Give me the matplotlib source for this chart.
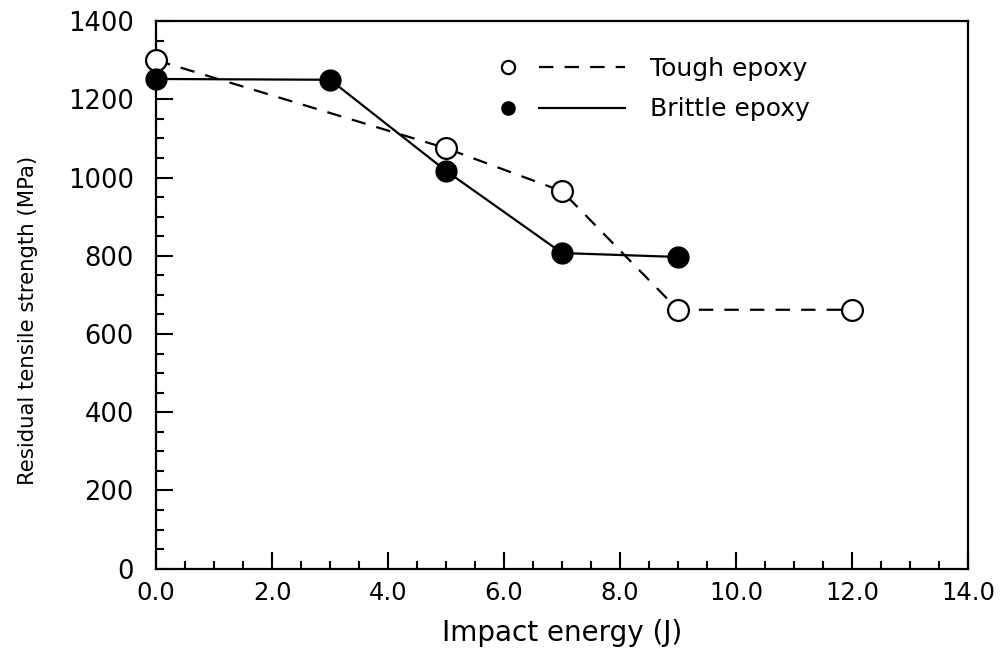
import matplotlib
matplotlib.use("Agg")
import matplotlib.pyplot as plt
from matplotlib.lines import Line2D
from matplotlib.legend_handler import HandlerBase
from matplotlib.ticker import MultipleLocator, FormatStrFormatter

# values
tough_x = [0, 5, 7, 9, 12]
tough_y = [1300, 1075, 965, 662, 662]
brittle_x = [0, 3, 5, 7, 9]
brittle_y = [1252, 1250, 1017, 807, 797]
labels = ["Tough epoxy", "Brittle epoxy"]

plt.rcParams['font.family'] = ['DejaVu Sans']


class MarkThenLine(HandlerBase):
    # old-style legend key: symbol on the left, line sample on the right
    def create_artists(self, legend, orig_handle, xdescent, ydescent,
                       width, height, fontsize, trans):
        mark, line = orig_handle
        y = height / 2 - ydescent
        x0 = -xdescent
        m = Line2D([x0 + 0.06 * width], [y])
        m.update_from(mark)
        m.set_transform(trans)
        l = Line2D([x0 + 0.31 * width, x0 + width], [y, y])
        l.update_from(line)
        l.set_transform(trans)
        return [m, l]


fig = plt.figure(figsize=(10.01, 6.59), dpi=100)
ax = fig.add_axes([0.156, 0.137, 0.811, 0.831])

dash = (0, (6.5, 5))
ax.plot(tough_x, tough_y, color='black', lw=1.6, ls=dash,
        marker='o', ms=15, mfc='white', mec='black', mew=1.6, clip_on=False, zorder=3)
ax.plot(brittle_x, brittle_y, color='black', lw=1.6, ls='-',
        marker='o', ms=15, mfc='black', mec='black', clip_on=False, zorder=4)

ax.set_xlim(0, 14)
ax.set_ylim(0, 1400)
ax.xaxis.set_major_locator(MultipleLocator(2))
ax.xaxis.set_minor_locator(MultipleLocator(0.5))
ax.yaxis.set_major_locator(MultipleLocator(200))
ax.yaxis.set_minor_locator(MultipleLocator(50))
ax.xaxis.set_major_formatter(FormatStrFormatter('%.1f'))

ax.tick_params(which='both', direction='in', top=False, right=False, width=1.5)
ax.tick_params(which='major', length=12)
ax.tick_params(which='minor', length=6)
ax.tick_params(axis='y', labelsize=18.5, pad=16)
ax.tick_params(axis='x', labelsize=17.5, pad=9)
for s in ax.spines.values():
    s.set_linewidth(1.6)

ax.set_xlabel("Impact energy (J)", fontsize=20, labelpad=10)
ax.set_ylabel("Residual tensile strength (MPa)", fontsize=15.3)
ax.yaxis.set_label_coords(-0.145, 0.454)

t_mark = Line2D([], [], marker='o', ms=9.5, mfc='white', mec='black', mew=1.6, ls='none')
t_line = Line2D([], [], color='black', lw=1.6, ls=dash)
b_mark = Line2D([], [], marker='o', ms=9.5, mfc='black', mec='black', ls='none')
b_line = Line2D([], [], color='black', lw=1.6, ls='-')
ax.legend([(t_mark, t_line), (b_mark, b_line)], labels,
          handler_map={tuple: MarkThenLine()},
          handlelength=5.0, handletextpad=1.0, labelspacing=0.65,
          borderpad=0, borderaxespad=0,
          fontsize=18, frameon=False, loc='upper left',
          bbox_to_anchor=(0.424, 0.934))

fig.savefig("out.png", dpi=100)
